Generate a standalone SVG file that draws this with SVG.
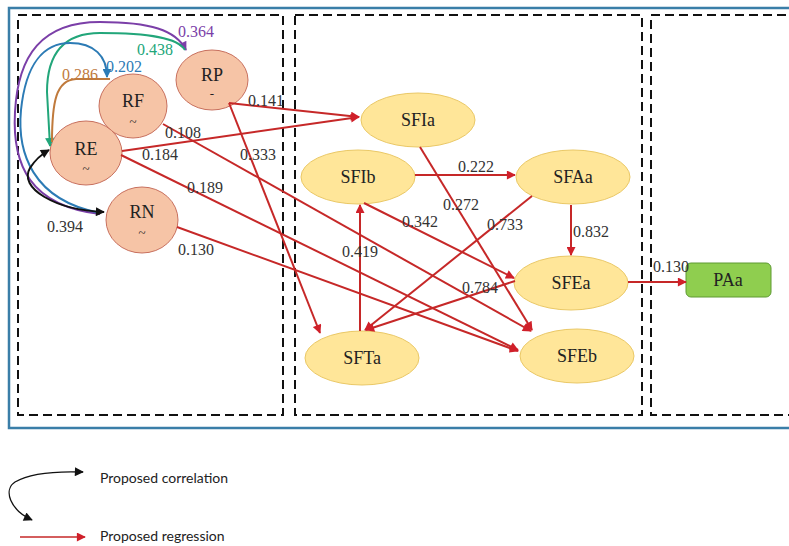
<svg xmlns="http://www.w3.org/2000/svg" width="789" height="546" viewBox="0 0 789 546">
<style>
.frame{fill:none;stroke:#3A7EA8;stroke-width:2.5}
.dash{fill:none;stroke:#111;stroke-width:2;stroke-dasharray:9 5}
.rn{fill:#F6C4A6;stroke:#C8705E;stroke-width:1}
.sf{fill:#FFE699;stroke:#EAC866;stroke-width:1}
.pa{fill:#8FCE4F;stroke:#5E9A33;stroke-width:1}
.lbl{font-family:"Liberation Serif","Times New Roman",serif;font-size:18px;fill:#222;text-anchor:middle}
.sub{font-family:"Liberation Serif","Times New Roman",serif;font-size:13px;fill:#222;text-anchor:middle}
.num{font-family:"Liberation Serif","Times New Roman",serif;font-size:16px;fill:#333}
.reg{fill:none;stroke:#C62828;stroke-width:2}
.cor{fill:none;stroke-width:2}
.leg{font-family:Lato,"Open Sans",sans-serif;font-size:14px;fill:#222}
</style>
<defs>
<marker id="ar" viewBox="0 0 10 10" refX="9" refY="5" markerWidth="11" markerHeight="9" markerUnits="userSpaceOnUse" orient="auto-start-reverse"><path d="M0,0 L10,5 L0,10 z" fill="#D0202A"/></marker>
<marker id="ak" viewBox="0 0 10 10" refX="9" refY="5" markerWidth="10" markerHeight="9" markerUnits="userSpaceOnUse" orient="auto-start-reverse"><path d="M0,0 L10,5 L0,10 z" fill="#111"/></marker>
<marker id="ap" viewBox="0 0 10 10" refX="9" refY="5" markerWidth="10" markerHeight="9" markerUnits="userSpaceOnUse" orient="auto-start-reverse"><path d="M0,0 L10,5 L0,10 z" fill="#7B3FA8"/></marker>
<marker id="ag" viewBox="0 0 10 10" refX="9" refY="5" markerWidth="10" markerHeight="9" markerUnits="userSpaceOnUse" orient="auto-start-reverse"><path d="M0,0 L10,5 L0,10 z" fill="#22A67A"/></marker>
<marker id="ab" viewBox="0 0 10 10" refX="9" refY="5" markerWidth="10" markerHeight="9" markerUnits="userSpaceOnUse" orient="auto-start-reverse"><path d="M0,0 L10,5 L0,10 z" fill="#2C7BB5"/></marker>
</defs>
<rect width="789" height="546" fill="#fff"/>
<rect class="frame" x="9" y="8" width="795" height="420"/>
<rect class="dash" x="18" y="15" width="265" height="400"/>
<rect class="dash" x="295" y="15" width="347" height="400"/>
<rect class="dash" x="651" y="15" width="160" height="400"/>

<g id="RP"><ellipse class="rn" cx="212" cy="80" rx="36" ry="30"/><text class="lbl" x="212" y="81">RP</text><text class="sub" x="212" y="98">-</text></g>
<g id="RF"><ellipse class="rn" cx="133" cy="106" rx="34" ry="32"/><text class="lbl" x="133" y="107">RF</text><text class="sub" x="133" y="126">~</text></g>
<g id="RE"><ellipse class="rn" cx="86" cy="153" rx="36" ry="32"/><text class="lbl" x="86" y="155">RE</text><text class="sub" x="86" y="173">~</text></g>
<g id="RN"><ellipse class="rn" cx="142" cy="220" rx="36" ry="33"/><text class="lbl" x="142" y="218">RN</text><text class="sub" x="142" y="237">~</text></g>

<g id="SFIa"><ellipse class="sf" cx="418" cy="120" rx="57" ry="27"/><text class="lbl" x="418" y="126">SFIa</text></g>
<g id="SFIb"><ellipse class="sf" cx="358" cy="177" rx="57" ry="27"/><text class="lbl" x="358" y="183">SFIb</text></g>
<g id="SFAa"><ellipse class="sf" cx="573" cy="177" rx="57" ry="27"/><text class="lbl" x="573" y="183">SFAa</text></g>
<g id="SFEa"><ellipse class="sf" cx="571" cy="283" rx="57" ry="27"/><text class="lbl" x="571" y="289">SFEa</text></g>
<g id="SFTa"><ellipse class="sf" cx="362" cy="358" rx="57" ry="27"/><text class="lbl" x="362" y="364">SFTa</text></g>
<g id="SFEb"><ellipse class="sf" cx="577" cy="356" rx="57" ry="27"/><text class="lbl" x="577" y="362">SFEb</text></g>
<g id="PAa"><rect class="pa" x="686" y="263" width="85" height="34" rx="5"/><text class="lbl" x="728" y="286">PAa</text></g>

<g id="connectors">
<path class="cor" stroke="#7B3FA8" d="M100,214 C30,206 12,165 15,112 C18,55 42,22 100,22 C150,22 176,30 186,50" marker-end="url(#ap)"/>
<path class="cor" stroke="#22A67A" d="M185,50 C178,38 150,33 100,33 C62,33 47,55 47,92 L50,146" marker-end="url(#ag)"/>
<path class="cor" stroke="#2C7BB5" d="M100,213 C32,200 17,152 21,110 C26,62 45,43 70,43 C94,43 107,56 107,77" marker-end="url(#ab)"/>
<path class="cor" stroke="#C07A3C" d="M52,142 C52,102 56,80 76,79 L110,79"/>
<path class="cor" stroke="#111" d="M104,212 C55,210 18,188 30,168 C35,160 42,154 49,150" marker-start="url(#ak)" marker-end="url(#ak)"/>

<path class="reg" d="M229,103 L359,117" marker-end="url(#ar)"/>
<path class="reg" d="M122,151 L359,117" marker-end="url(#ar)"/>
<path class="reg" d="M229,103 L320,333" marker-end="url(#ar)"/>
<path class="reg" d="M163,124 L531,331" marker-end="url(#ar)"/>
<path class="reg" d="M121,155 L518,350" marker-end="url(#ar)"/>
<path class="reg" d="M177,227 L518,351" marker-end="url(#ar)"/>
<path class="reg" d="M415,175 L515,175" marker-end="url(#ar)"/>
<path class="reg" d="M420,147 L532,330" marker-end="url(#ar)"/>
<path class="reg" d="M364,203 L514,278" marker-end="url(#ar)"/>
<path class="reg" d="M360,331 L360,205" marker-end="url(#ar)"/>
<path class="reg" d="M532,196 L365,330" marker-end="url(#ar)"/>
<path class="reg" d="M515,281 L366,330" marker-end="url(#ar)"/>
<path class="reg" d="M571,205 L571,255" marker-end="url(#ar)"/>
<path class="reg" d="M628,282 L686,282" marker-end="url(#ar)"/>
</g>

<g id="labels">
<text class="num" x="178" y="37" fill="#7B3FA8" style="fill:#7B3FA8">0.364</text>
<text class="num" x="137" y="55" style="fill:#22A67A">0.438</text>
<text class="num" x="106" y="72" style="fill:#2C7BB5">0.202</text>
<text class="num" x="62" y="80" style="fill:#C07A3C">0.286</text>
<text class="num" x="47" y="232">0.394</text>
<text class="num" x="248" y="106">0.141</text>
<text class="num" x="165" y="138">0.108</text>
<text class="num" x="142" y="160">0.184</text>
<text class="num" x="240" y="160">0.333</text>
<text class="num" x="187" y="193">0.189</text>
<text class="num" x="178" y="255">0.130</text>
<text class="num" x="458" y="172">0.222</text>
<text class="num" x="443" y="210">0.272</text>
<text class="num" x="402" y="227">0.342</text>
<text class="num" x="487" y="230">0.733</text>
<text class="num" x="342" y="257">0.419</text>
<text class="num" x="462" y="293">0.784</text>
<text class="num" x="573" y="237">0.832</text>
<text class="num" x="653" y="272">0.130</text>
</g>

<g id="legend">
<path fill="none" stroke="#111" stroke-width="1.3" d="M32,520 C10,510 3,490 15,482 C30,473 55,471 83,472" marker-start="url(#ak)" marker-end="url(#ak)"/>
<path fill="none" stroke="#C62828" stroke-width="1.3" d="M20,537 L85,537" marker-end="url(#ar)"/>
<text class="leg" x="100" y="483">Proposed correlation</text>
<text class="leg" x="100" y="541">Proposed regression</text>
</g>
</svg>
